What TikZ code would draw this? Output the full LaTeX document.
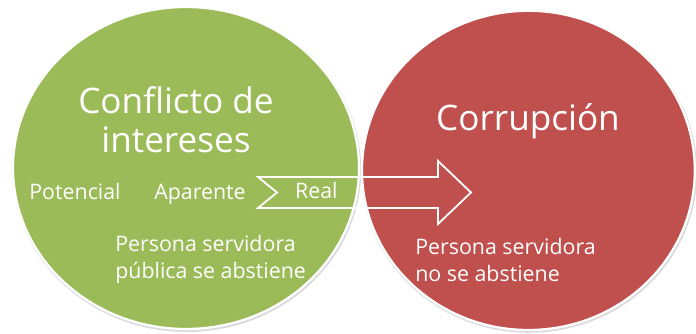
\documentclass[tikz,border=0pt]{standalone}
\usepackage{fontspec}
\setmainfont{Open Sans}
\usetikzlibrary{positioning}

\definecolor{conflgreen}{HTML}{9BBB59}
\definecolor{corrred}{HTML}{C0504D}

\tikzset{
	circ/.style={draw=white, line width=1.6pt},
	shade/.style={fill=black!14},
	bigtxt/.style={text=white, font=\fontsize{25}{28}\selectfont, align=center},
	smalltxt/.style={text=white, font=\fontsize{15.2}{19.5}\selectfont, align=left, inner sep=0pt}
}

\begin{document}
\begin{tikzpicture}
		\useasboundingbox (0,0) rectangle (17.4,8.35);

		% Shadows under the circles
		\fill[shade] (4.67,4.11) ellipse (4.36cm and 4.06cm);
		\fill[shade] (13.23,4.05) ellipse (4.2cm and 4.02cm);

		% Circles
		\draw[circ, fill=conflgreen] (4.65,4.15) ellipse (4.325cm and 4.025cm);
		\draw[circ, fill=corrred] (13.21,4.09) ellipse (4.16cm and 3.99cm);

		% Block arrow (outline only)
		\draw[white, line width=1.3pt, line join=miter]
			(6.45,3.925) -- (10.95,3.925) -- (10.95,4.325) -- (11.775,3.5375)
			-- (10.95,2.75) -- (10.95,3.15) -- (6.45,3.15) -- (6.925,3.5375) -- cycle;

		% Titles
		\node[bigtxt] (confl) at (4.4,5.35) {Conflicto de\\intereses};
		\node[bigtxt] (corr) at (13.2,5.33) {Corrupción};

		% Kinds of conflict
		\node[smalltxt, anchor=base] (pot) at (1.875,3.37) {Potencial};
		\node[smalltxt, anchor=base] (apa) at (5.0,3.37) {Aparente};
		\node[smalltxt, anchor=base] (real) at (7.91,3.39) {Real};

		% Bottom texts
		\node[smalltxt, anchor=west] (abst) at (2.875,1.87) {Persona servidora\\pública se abstiene};
		\node[smalltxt, anchor=west] (noabst) at (10.375,1.85) {Persona servidora\\no se abstiene};
	\end{tikzpicture}
\end{document}
